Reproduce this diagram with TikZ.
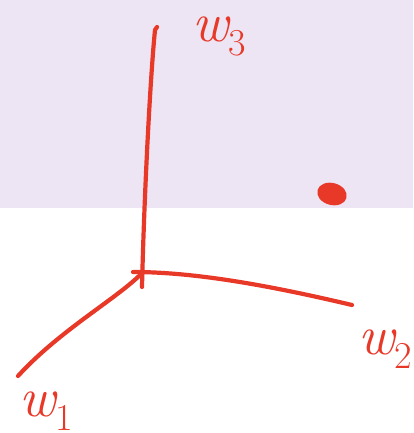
\documentclass[tikz,border=0pt]{standalone}
\usepackage{fontspec}
\usetikzlibrary{calc}
\definecolor{ink}{RGB}{232,56,40}
\definecolor{band}{RGB}{237,229,244}
\newcommand{\wsub}[1]{{\itshape w}\raisebox{-0.25em}{\fontsize{38}{40}\selectfont #1}}
\tikzset{
  axis/.style={draw=ink, line width=4.2pt, line cap=round, line join=round},
  lbl/.style={text=ink, inner sep=0pt, font=\fontsize{56}{60}\selectfont},
}
\begin{document}
\begin{tikzpicture}[x=1pt,y=-1pt]
\useasboundingbox (0,0) rectangle (413,433);
\fill[band] (0,0) rectangle (413,208);
% coordinates
\coordinate (O) at (142,273);
\coordinate (top) at (157,27);
\coordinate (right) at (352,305);
\coordinate (left) at (18,376);
% axes
\draw[axis] (142,287) .. controls (144,200) and (150,80) .. (155,30) -- (top);
\draw[axis] (133,272) .. controls (200,272) and (280,288) .. (right);
\draw[axis] (O) .. controls (118,298) and (60,330) .. (left);
% point
\fill[ink, rotate around={-15:(332,194)}] (332,194) ellipse [x radius=15, y radius=11];
% labels
\node[lbl, anchor=base west] (w3) at (192,42) {\wsub{3}};
\node[lbl, anchor=base west] (w2) at (358,354) {\wsub{2}};
\node[lbl, anchor=base west] (w1) at (19,416) {\wsub{1}};
\end{tikzpicture}
\end{document}
